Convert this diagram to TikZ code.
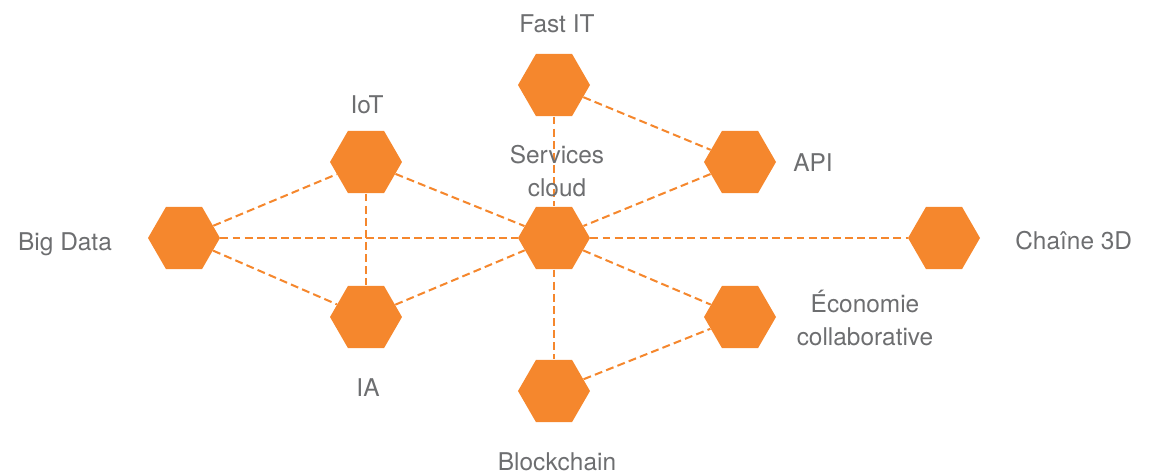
\documentclass[tikz,border=0pt]{standalone}
\usepackage{fontspec}
\setmainfont{TeX Gyre Heros}
\usepackage{xcolor}
\usepackage{tikz}
\usetikzlibrary{shapes,positioning,calc}

\definecolor{hexorange}{HTML}{F5872D}
\definecolor{labelgray}{HTML}{6D6E70}

\begin{document}
\begin{tikzpicture}[
    x=0.02cm, y=-0.02cm,
    hexa/.style={regular polygon, regular polygon sides=6, fill=hexorange, draw=none,
        minimum size=1.44cm, inner sep=0pt},
    tag/.style={text=labelgray, inner sep=0pt, align=center,
        font=\fontsize{13.9}{18.7}\selectfont},
    link/.style={draw=hexorange, line width=1.15pt, dash pattern=on 4.5pt off 2.4pt}
]
    \useasboundingbox (0,0) rectangle (1149,473);

    % hexagons
    \node[hexa] (fastit) at (554,85) {};
    \node[hexa] (iot) at (366,162) {};
    \node[hexa] (api) at (740,162) {};
    \node[hexa] (bigdata) at (184,238) {};
    \node[hexa] (cloud) at (554,238) {};
    \node[hexa] (chaine) at (944,238) {};
    \node[hexa] (ia) at (366,317) {};
    \node[hexa] (eco) at (740,317) {};
    \node[hexa] (blockchain) at (554,391) {};

    % connectors
    \draw[link] (fastit) -- (api);
    \draw[link] (fastit) -- (cloud);
    \draw[link] (bigdata) -- (iot);
    \draw[link] (bigdata) -- (ia);
    \draw[link] (bigdata) -- (cloud);
    \draw[link] (iot) -- (ia);
    \draw[link] (iot) -- (cloud);
    \draw[link] (ia) -- (cloud);
    \draw[link] (api) -- (cloud);
    \draw[link] (cloud) -- (chaine);
    \draw[link] (cloud) -- (eco);
    \draw[link] (cloud) -- (blockchain);
    \draw[link] (blockchain) -- (eco);

    % labels
    \node[tag, anchor=base] (fastitlabel) at (557,33) {Fast IT};
    \node[tag, anchor=base] (iotlabel) at (367,113) {IoT};
    \node[tag, anchor=base west] (apilabel) at (793,172) {API};
    \node[tag, anchor=base] (bigdatalabel) at (65,250) {Big Data};
    \node[tag] (cloudlabel) at (557,171) {Services\\cloud};
    \node[tag, anchor=base west] (chainelabel) at (1015,249) {Chaîne 3D};
    \node[tag] (ecolabel) at (865,318) {Économie\\collaborative};
    \node[tag, anchor=base] (ialabel) at (368,396) {IA};
    \node[tag, anchor=base] (blockchainlabel) at (557,470) {Blockchain};
\end{tikzpicture}
\end{document}
